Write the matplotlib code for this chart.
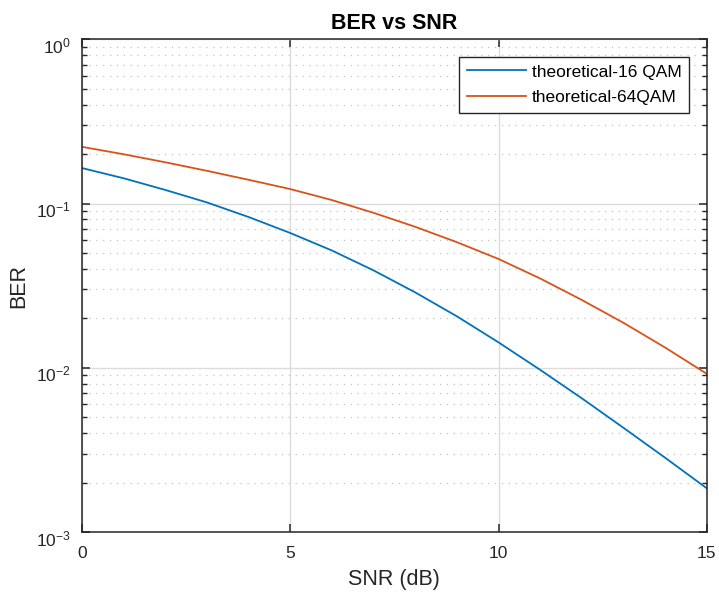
import matplotlib
matplotlib.use("Agg")
import matplotlib.pyplot as plt
import matplotlib.transforms as mtransforms
from matplotlib.ticker import LogLocator, NullFormatter

plt.rcParams['font.family'] = ['Liberation Sans', 'DejaVu Sans']
plt.rcParams['mathtext.fontset'] = 'custom'
plt.rcParams['mathtext.rm'] = 'Liberation Sans'
plt.rcParams['mathtext.default'] = 'regular'
plt.rcParams['axes.unicode_minus'] = False

# values
snr_db = [0, 1, 2, 3, 4, 5, 6, 7, 8, 9, 10, 11, 12, 13, 14, 15]
ber_16qam = [0.1644, 0.1425, 0.121, 0.1016, 0.0828, 0.0662, 0.0518, 0.0392,
             0.0288, 0.0206, 0.0143, 0.00973, 0.00653, 0.00432, 0.00284, 0.00185]
ber_64qam = [0.2214, 0.1995, 0.1783, 0.1582, 0.1395, 0.1225, 0.105, 0.0878,
             0.0722, 0.0582, 0.046, 0.035, 0.0259, 0.0188, 0.0133, 0.0092]

fig = plt.figure(figsize=(7.19, 5.94), dpi=100)
ax = fig.add_axes([0.114, 0.104, 0.869, 0.830])

ax.plot(snr_db, ber_16qam, color='#0072BD', lw=1.3, label='theoretical-16 QAM')
ax.plot(snr_db, ber_64qam, color='#D95319', lw=1.3, label='theoretical-64QAM')

ax.set_yscale('log')
ax.set_xlim(0, 15)
ax.set_ylim(1e-3, 1)
ax.set_xticks([0, 5, 10, 15])
ax.set_yticks([1e-3, 1e-2, 1e-1, 1])
ax.yaxis.set_minor_locator(LogLocator(base=10, subs=range(2, 10), numticks=20))
ax.yaxis.set_minor_formatter(NullFormatter())

ax.grid(True, which='major', color='#dcdcdc', lw=1.0, ls='-')
ax.grid(True, which='minor', axis='y', color='#c4c4c4', lw=0.9, ls=(0, (1, 4.5)))
ax.set_axisbelow(True)

for s in ax.spines.values():
    s.set_color('#262626')
    s.set_linewidth(1.1)
ax.tick_params(which='both', direction='in', top=True, right=True,
               colors='#262626', labelcolor='#262626')
ax.tick_params(which='major', length=6, width=1.1, labelsize=12.5)
ax.tick_params(axis='x', which='major', pad=10)
ax.tick_params(axis='y', which='major', pad=8)
ax.tick_params(which='minor', length=3.5, width=1.0)

# nudge y tick labels down a little, like the reference
offset = mtransforms.ScaledTranslation(0, -4 / 72, fig.dpi_scale_trans)
for lab in ax.get_yticklabels():
    lab.set_transform(lab.get_transform() + offset)

ax.set_xlabel('SNR (dB)', fontsize=15.5, color='#262626', labelpad=6)
ax.set_ylabel('BER', fontsize=15.5, color='#262626', labelpad=5)
ax.set_title('BER vs SNR', fontsize=15.5, fontweight='bold', pad=7)

leg = ax.legend(loc='upper right', fontsize=12.5, frameon=True, fancybox=False,
                borderaxespad=1.0, handlelength=3.4, borderpad=0.45,
                labelspacing=0.6, handletextpad=0.35)
leg.get_frame().set_edgecolor('#262626')
leg.get_frame().set_linewidth(1.0)
leg.get_frame().set_alpha(1)

fig.savefig('out.png', dpi=100)
